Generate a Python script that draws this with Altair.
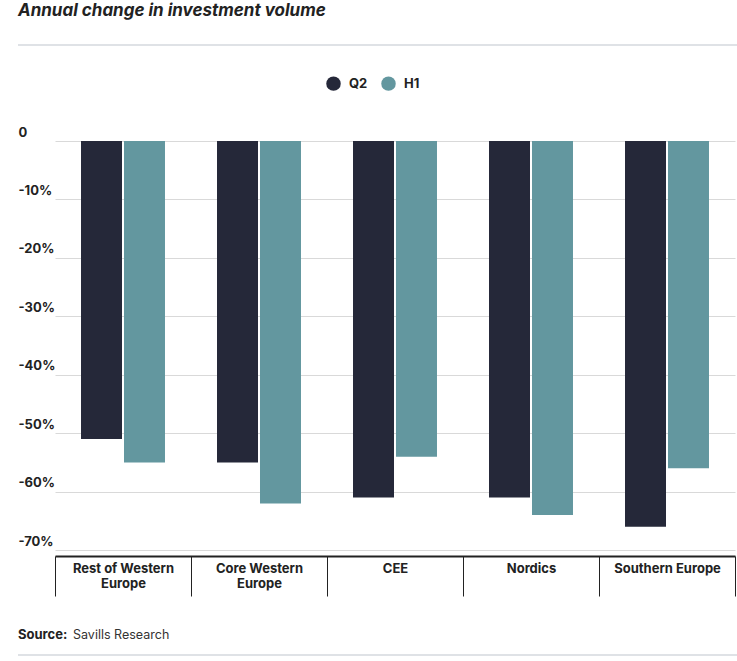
import altair as alt
import pandas as pd

regions = ["Rest of Western Europe", "Core Western Europe", "CEE", "Nordics", "Southern Europe"]
q2 = [-51, -55, -61, -61, -66]
h1 = [-55, -62, -54, -64, -56]
series = ["Q2", "H1"]
colors = ["#252839", "#63979f"]
y_ticks = [0, -10, -20, -30, -40, -50, -60, -70]
title_text = "Annual change in investment volume"

rows = []
for i, r in enumerate(regions):
    rows.append({"region": r, "series": "Q2", "value": q2[i]})
    rows.append({"region": r, "series": "H1", "value": h1[i]})
df = pd.DataFrame(rows)

FONT = "Inter"
W, H = 719, 415

label_expr = ("datum.label == 'Rest of Western Europe' ? ['Rest of Western', 'Europe'] : "
              "datum.label == 'Core Western Europe' ? ['Core Western', 'Europe'] : datum.label")

bars = alt.Chart(df).mark_bar().encode(
    x=alt.X("region:N", sort=regions,
            scale=alt.Scale(range=[37, 717], paddingInner=0, paddingOuter=0),
            axis=alt.Axis(title=None, tickBand="extent", tickSize=40, tickColor="#222222",
                          tickWidth=1, domainColor="#222222", domainWidth=2,
                          labelAngle=0, labelFont=FONT, labelFontSize=13, labelFontWeight="bold",
                          labelColor="#222222", labelPadding=-34, labelBaseline="top",
                          labelLineHeight=15, labelLimit=200, labelExpr=label_expr)),
    xOffset=alt.XOffset("series:N", sort=series,
                        scale=alt.Scale(paddingInner=0.0465, paddingOuter=0.605)),
    y=alt.Y("value:Q", scale=alt.Scale(domain=[-71, 0], nice=False, zero=False),
            axis=alt.Axis(title=None, values=y_ticks, orient="left", domain=False, ticks=False,
                          tickSize=0, labelAlign="left", labelBaseline="alphabetic",
                          labelOffset=-5, labelPadding=0, labelFont=FONT, labelFontSize=13,
                          labelFontWeight="bold", labelColor="#222222",
                          labelExpr="datum.value == 0 ? '0' : datum.value + '%'",
                          grid=True, gridColor="#d9d9d9", gridWidth=1)),
    color=alt.Color("series:N", sort=series,
                    scale=alt.Scale(domain=series, range=colors),
                    legend=alt.Legend(title=None, orient="none", legendX=308, legendY=-65,
                                      direction="horizontal", symbolType="circle",
                                      symbolSize=210, symbolStrokeWidth=0, labelFont=FONT,
                                      labelFontSize=13, labelFontWeight="bold",
                                      labelColor="#222222", labelOffset=8, columnPadding=13,
                                      padding=0)),
)

title = alt.Chart(pd.DataFrame({"t": [title_text]})).mark_text(
    align="left", baseline="middle", font=FONT, fontSize=17, fontWeight="bold",
    fontStyle="italic", color="#222222"
).encode(text="t:N", x=alt.value(0), y=alt.value(-130))

top_line = alt.Chart(pd.DataFrame({"a": [0]})).mark_rule(color="#dfe2e6", strokeWidth=2).encode(
    x=alt.value(0), x2=alt.value(W), y=alt.value(-96))
bottom_line = alt.Chart(pd.DataFrame({"a": [0]})).mark_rule(color="#dfe2e6", strokeWidth=2).encode(
    x=alt.value(0), x2=alt.value(W), y=alt.value(514))

src_bold = alt.Chart(pd.DataFrame({"t": ["Source:"]})).mark_text(
    align="left", baseline="middle", font=FONT, fontSize=13, fontWeight="bold", color="#222222"
).encode(text="t:N", x=alt.value(0), y=alt.value(494))
src_reg = alt.Chart(pd.DataFrame({"t": ["Savills Research"]})).mark_text(
    align="left", baseline="middle", font=FONT, fontSize=12.5, color="#333333"
).encode(text="t:N", x=alt.value(55), y=alt.value(494))

chart = alt.layer(bars, title, top_line, bottom_line, src_bold, src_reg).properties(
    width=W, height=H,
    padding={"left": 18, "top": 141, "right": 0, "bottom": 105},
    autosize=alt.AutoSizeParams(type="none"),
).configure_view(stroke=None)

chart.save("out.html", embed_options={"renderer": "svg", "actions": False})
